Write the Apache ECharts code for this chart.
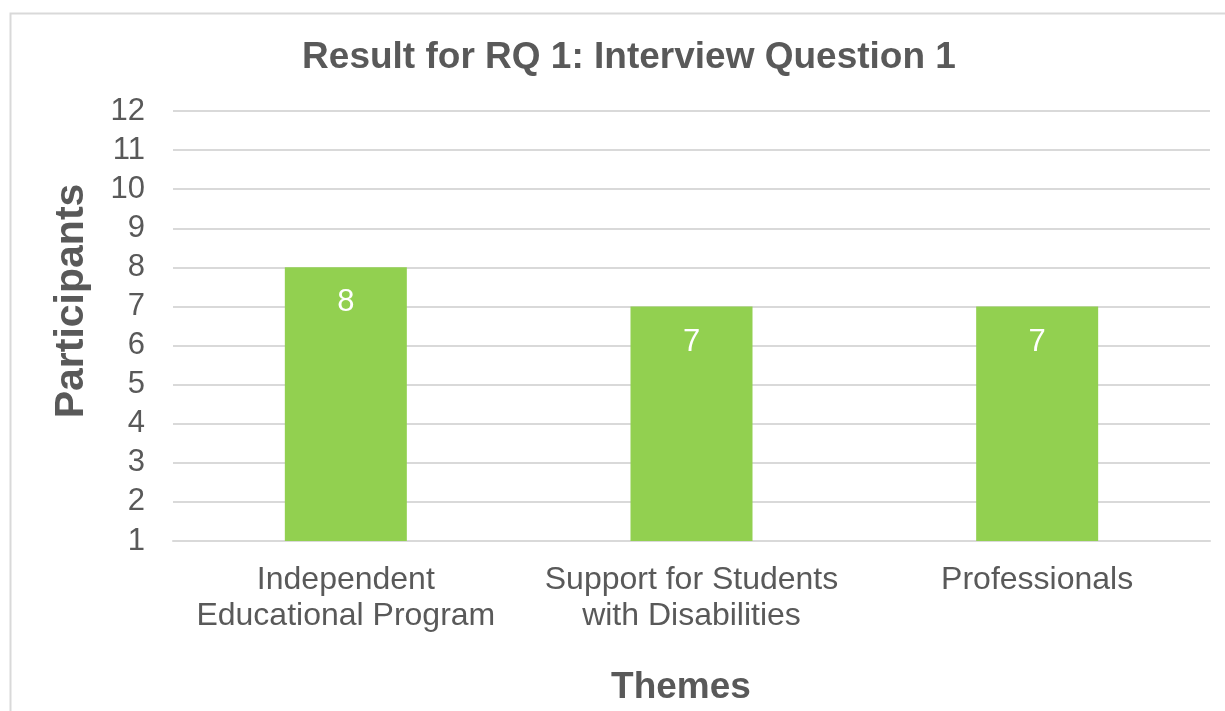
<!DOCTYPE html>
<html>
<head>
<meta charset="utf-8">
<script src="https://cdn.jsdelivr.net/npm/echarts@6/dist/echarts.min.js"></script>
<style>
  html, body { margin: 0; padding: 0; background: #fff; }
  #chart { width: 1225px; height: 711px; }
</style>
</head>
<body>
<div id="chart"></div>
<script>
const themes = ['Independent\nEducational Program', 'Support for Students\nwith Disabilities', 'Professionals'];
const participants = [8, 7, 7];

const chart = echarts.init(document.getElementById('chart'));
const font = '"Liberation Sans", Arial, sans-serif';
const grey = '#595959';

chart.setOption({
    animation: false,
    title: {
        text: 'Result for RQ 1: Interview Question 1',
        left: 624,
        top: 34,
        textAlign: 'center',
        textStyle: { fontFamily: font, fontSize: 37, fontWeight: 'bold', color: grey }
    },
    graphic: [
        {
            type: 'rect',
            shape: { x: 10.5, y: 13.5, width: 1230, height: 720 },
            style: { fill: 'none', stroke: '#d9d9d9', lineWidth: 2 },
            silent: true
        },
        {
            type: 'text',
            x: 72, y: 301,
            rotation: Math.PI / 2,
            style: {
                text: 'Participants',
                font: 'bold 41px ' + font,
                fill: grey,
                align: 'center',
                verticalAlign: 'middle'
            }
        },
        {
            type: 'text',
            x: 681, y: 688,
            style: {
                text: 'Themes',
                font: 'bold 37px ' + font,
                fill: grey,
                align: 'center',
                verticalAlign: 'middle'
            }
        }
    ],
    grid: { left: 173, right: 15, top: 111, bottom: 170 },
    xAxis: {
        type: 'category',
        data: themes,
        axisLine: { lineStyle: { color: '#d9d9d9', width: 2 } },
        axisTick: { show: false },
        axisLabel: {
            fontFamily: font, fontSize: 32, color: grey,
            lineHeight: 36, margin: 21, interval: 0
        }
    },
    yAxis: {
        type: 'value',
        min: 1, max: 12, interval: 1,
        axisLine: { show: false },
        axisTick: { show: false },
        splitLine: { lineStyle: { color: '#d9d9d9', width: 2 } },
        axisLabel: { fontFamily: font, fontSize: 31, color: grey, margin: 28 }
    },
    series: [{
        type: 'bar',
        data: participants,
        barWidth: 122,
        itemStyle: { color: '#92d050' },
        label: {
            show: true,
            position: 'insideTop',
            distance: 20,
            fontFamily: font,
            fontSize: 31,
            color: '#ffffff'
        }
    }]
});
</script>
</body>
</html>
